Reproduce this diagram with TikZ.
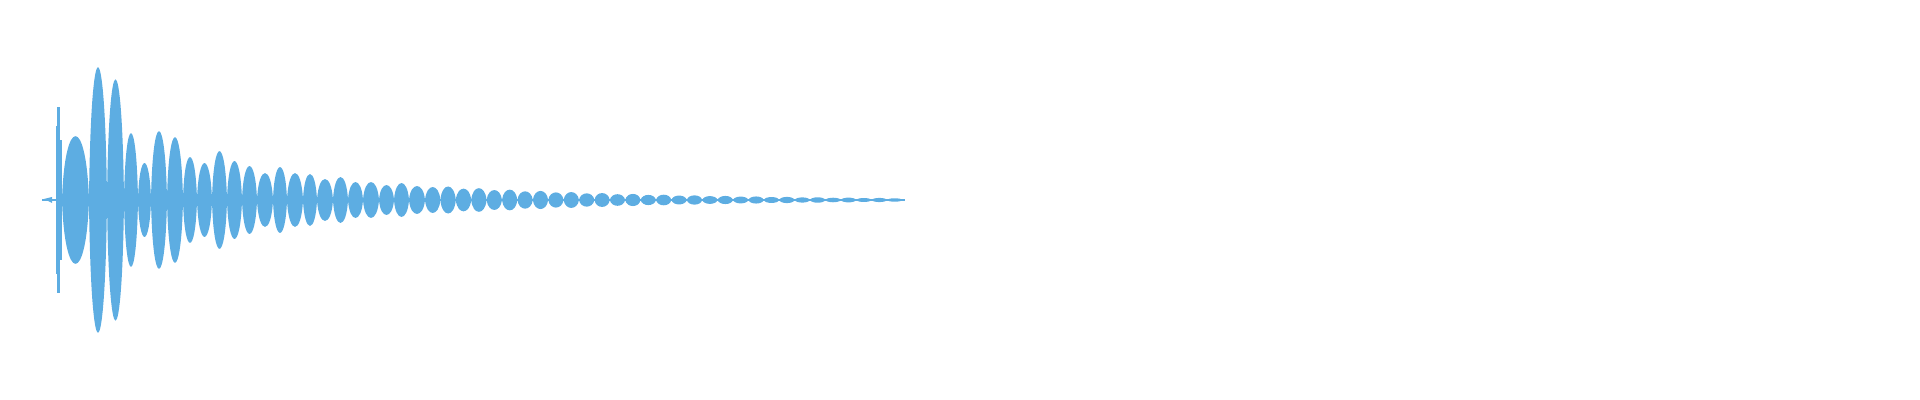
\documentclass[tikz,border=0pt]{standalone}
\definecolor{wave}{RGB}{93,173,226}
\tikzset{lobe/.style={fill=wave,draw=none}}
\newcommand{\lobe}[3]{\fill[lobe] (#1,200) .. controls (#1+0.1*#2-0.1*#1,200-1.33*#3) and (#2-0.1*#2+0.1*#1,200-1.33*#3) .. (#2,200) .. controls (#2-0.1*#2+0.1*#1,200+1.33*#3) and (#1+0.1*#2-0.1*#1,200+1.33*#3) .. (#1,200) -- cycle;}
\begin{document}
\begin{tikzpicture}[x=0.5pt,y=-0.5pt]
   \useasboundingbox (0,0) rectangle (1920,400);
   % baseline and onset
   \fill[wave] (42,199.3) rectangle (905,200.7);
   \fill[wave] (44,199) -- (52,197) -- (52,203) -- cycle;
   \fill[wave] (55.5,126) rectangle (56.5,274);
   \fill[wave] (57,107) rectangle (60,293);
   \fill[wave] (60,140) rectangle (62,260);
   % first lobes
   \foreach \a/\b/\h in {62/89/64, 89/107/133, 107/124/121, 124/138/67,
      138/151/37, 151/167/69, 167/183/63, 183/197/43, 197/212/37,
      212/227/49, 227/242/39, 242/257/34, 257/273/27, 273/287/33,
      287/303/27, 303/317/26, 317/333/21, 333/348/23, 348/363/18,
      363/379/18, 379/394/15, 394/409/17, 409/425/14}
      {\lobe{\a}{\b}{\h}}
   % decaying tail
   \foreach \i in {0,...,30}{
      \pgfmathsetmacro{\a}{425+15.4*\i}
      \pgfmathsetmacro{\b}{\a+15.4}
      \pgfmathsetmacro{\h}{(13+1.5*mod(\i,2))*exp(-\i*15.4/230)}
      \lobe{\a}{\b}{\h}
   }
\end{tikzpicture}
\end{document}
